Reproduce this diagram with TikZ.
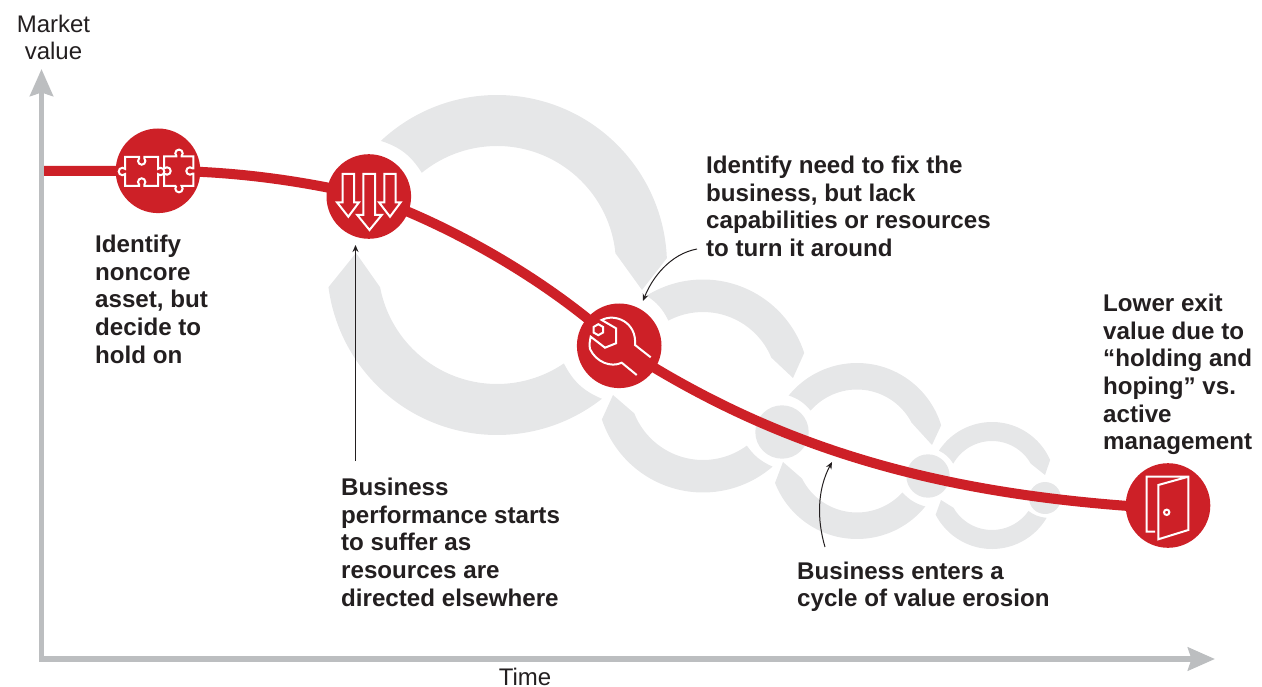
\documentclass[tikz,border=0pt]{standalone}
\usepackage{fontspec}
\setmainfont{Liberation Sans}
\usetikzlibrary{
    arrows.meta,
    calc
}
\definecolor{ringgrey}{HTML}{E6E7E8}
\definecolor{axisgrey}{HTML}{BCBEC0}
\definecolor{valuered}{HTML}{CD2027}
\definecolor{inkdark}{HTML}{231F20}
\tikzstyle{axis} = [
    draw=axisgrey,
    line width=5.6pt,
    {Stealth[length=27pt,width=23pt,inset=3.5pt]}-{Stealth[length=27pt,width=23pt,inset=3.5pt]}
]
\tikzstyle{callout} = [
    draw=inkdark,
    line width=1pt,
    -{Stealth[length=7pt,width=6pt]}
]
\tikzstyle{stage} = [
    circle,
    fill=valuered,
    minimum size=84.6pt,
    inner sep=0pt
]
\tikzstyle{eddy} = [
    circle,
    fill=ringgrey,
    inner sep=0pt
]
\tikzstyle{icon} = [
    draw=white,
    line width=2pt,
    line join=miter
]
\tikzstyle{note} = [
    anchor=north west,
    align=left,
    inner sep=0pt,
    text=inkdark,
    font=\bfseries\fontsize{24.15}{27.6}\selectfont
]
\tikzstyle{axislabel} = [
    align=center,
    inner sep=0pt,
    text=inkdark,
    font=\fontsize{24}{27}\selectfont
]

\begin{document}
\begin{tikzpicture}[x=1pt,y=-1pt]
\useasboundingbox (0,0) rectangle (1262,687);

% Grey rings, one piece per row
\foreach \cx/\cy/\ro/\ri/\aOut/\aIn/\bOut/\bIn/\tx/\ty/\bnd in {
    497/265/170/119/-133.1/-129.2/-2.3/-5.7/642/290/20,
    497/265/170/119/51.9/55.8/172.5/169.2/356/253/20,
    703/386/106.5/74/-122/-117.9/-18.1/-22.5/793/378/15,
    703/386/106.5/74/49.2/53.7/161.7/158.3/613/395/15,
    857/451/88/61.5/-140.9/-138.9/-17/-27.4/932/445/15,
    857/451/88/61.5/39.1/42.4/158.7/153.4/783/462/15,
    992/485.5/63.5/44.5/-146.7/-150.6/-23.7/-29.4/1045/475/15,
    992/485.5/63.5/44.5/30.6/34.9/152.6/150/941/500/15
} {
    \fill[ringgrey] ($(\cx,\cy)+(\aIn:\ri)$) to[bend right=\bnd] ($(\cx,\cy)+(\aOut:\ro)$)
        arc[start angle=\aOut,end angle=\bOut,radius=\ro]
        -- (\tx,\ty) -- ($(\cx,\cy)+(\bIn:\ri)$)
        arc[start angle=\bIn,end angle=\aIn,radius=\ri] -- cycle;
}

% Small grey circles between the rings
\node[eddy,minimum size=53.4pt] (eddyA) at (782,432) {};
\node[eddy,minimum size=43.4pt] (eddyB) at (928,476) {};
\node[eddy,minimum size=32pt] (eddyC) at (1045,498) {};

% Axes
\coordinate (axisTop) at (41.5,69);
\coordinate (axisCorner) at (41.5,659);
\coordinate (axisEnd) at (1215,659);
\draw[axis] (axisTop) -- (axisCorner) -- (axisEnd);

% Value curve
\coordinate (curveStart) at (44,170.8);
\coordinate (puzzlePos) at (158,170.8);
\coordinate (arrowsPos) at (368.8,196.5);
\coordinate (wrenchPos) at (619.2,345.8);
\coordinate (doorPos) at (1168,508.5);
\draw[valuered,line width=10pt] (curveStart) -- (puzzlePos)
    .. controls (230,170.8) and (300,180) .. (arrowsPos)
    .. controls (450,225) and (548,280) .. (wrenchPos)
    .. controls (770,444) and (930,496) .. (doorPos);

% Red stages
\node[stage] (puzzle) at (puzzlePos) {};
\node[stage] (arrows) at (arrowsPos) {};
\node[stage] (wrench) at (wrenchPos) {};
\node[stage] (door) at (1168,505.5) {};

% Puzzle icon
\draw[icon] (125,157) -- (139.1,157) -- (139.1,158.4) arc[start angle=225,end angle=-45,radius=3.7]
    -- (144.3,157) -- (158,157) -- (158,168.9) arc[start angle=-135,end angle=135,radius=3.7]
    -- (158,186) -- (144.3,186) -- (144.3,184.6) arc[start angle=45,end angle=-225,radius=3.7]
    -- (139.1,186) -- (125,186) -- (125,174.1) arc[start angle=45,end angle=315,radius=3.7] -- cycle;
\draw[icon] (164,156.5) -- (176.4,156.5) -- (176.4,155.9) arc[start angle=135,end angle=405,radius=3.7]
    -- (181.6,156.5) -- (193.3,156.5) -- (193.3,168.4) -- (192.6,168.4) arc[start angle=-45,end angle=-315,radius=3.7]
    -- (193.3,173.6) -- (193.3,186) -- (181.6,186) arc[start angle=-45,end angle=225,radius=3.7]
    -- (176.4,186) -- (164,186) -- (164,173.6) -- (164.4,173.6) arc[start angle=135,end angle=-135,radius=3.7]
    -- (164,168.4) -- cycle;

% Falling arrows icon
\foreach \sl/\sr/\wl/\wr/\tipx/\ybot/\ytip in {
    342.7/354/337/359/348.3/202.3/216.7,
    384.3/395.7/379/400.7/390/202.3/216.7,
    363.3/375/357.3/381.7/369.5/215/230
} {
    \draw[icon] (\sl,174) -- (\sr,174) -- (\sr,\ybot) -- (\wr,\ybot) -- (\tipx,\ytip)
        -- (\wl,\ybot) -- (\sl,\ybot) -- cycle;
}

% Wrench icon
\draw[icon] (598.3,324.2) -- (603.1,327) -- (603.1,332.5) -- (598.3,335.2) -- (593.5,332.5) -- (593.5,327) -- cycle;
\draw[icon] (636.7,375) -- (621.7,362.7) .. controls (611,368) and (596,362) .. (590,349)
    .. controls (589,345) and (590,340) .. (590.7,336.7) -- (605,347.7) -- (616,343.3)
    -- (616,328.3) -- (601.7,320) .. controls (615,313) and (637,322) .. (635,345) -- (650.7,357.3);

% Door icon
\draw[icon] (1155,531.7) -- (1146.7,531.7) -- (1146.7,476.7) -- (1188.3,476.7) -- (1188.3,530)
    -- (1158.3,539.3) -- (1158.3,485) -- (1188.3,476.7);
\draw[icon] (1166.7,512.3) circle[radius=2.7];

% Axis labels
\node[axislabel] (marketvalue) at (53.5,37.5) {Market\\value};
\node[axislabel] (time) at (525,677) {Time};

% Notes
\node[note] (holdnote) at (95,235) {Identify\\noncore\\asset, but\\decide to\\hold on};
\node[note] (sufferlabel) at (341,478) {Business\\performance starts\\to suffer as\\resources are\\directed elsewhere};
\node[note] (fixnote) at (706,156) {Identify need to fix the\\business, but lack\\capabilities or resources\\to turn it around};
\node[note] (exitnote) at (1103,294) {Lower exit\\value due to\\“holding and\\hoping” vs.\\active\\management};
\node[note] (erosionnote) at (797,561.5) {Business enters a\\cycle of value erosion};

% Callout arrows
\coordinate (sufferFoot) at (355.5,461);
\coordinate (sufferTip) at (355.5,245);
\coordinate (fixFoot) at (697,249);
\coordinate (fixTip) at (643,301);
\coordinate (erosionFoot) at (825,547);
\coordinate (erosionTip) at (832,462);
\draw[callout] (sufferFoot) -- (sufferTip);
\draw[callout] (fixFoot) .. controls (670,254) and (652,278) .. (fixTip);
\draw[callout] (erosionFoot) .. controls (817,520) and (817,490) .. (erosionTip);
\end{tikzpicture}
\end{document}
